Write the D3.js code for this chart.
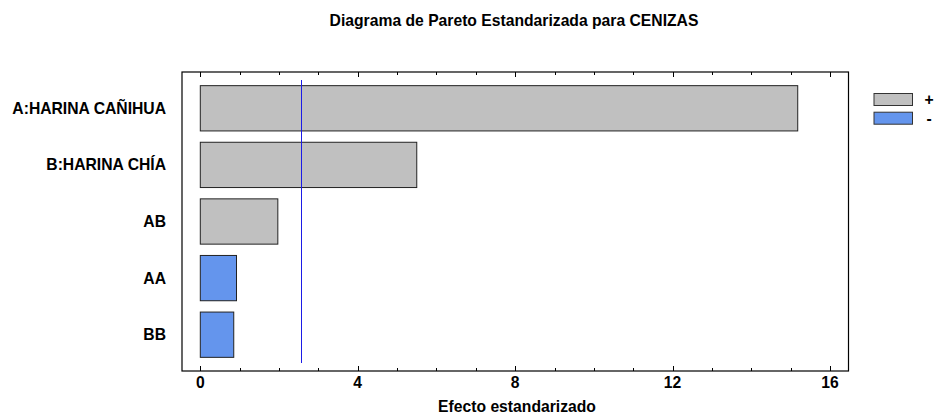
<!DOCTYPE html>
<html>
<head>
<meta charset="utf-8">
<style>
  body { margin: 0; background: #fff; }
  text { font-family: "Liberation Sans", Arial, sans-serif; font-weight: bold; fill: #000; }
</style>
</head>
<body>
<svg id="chart"></svg>
<script src="https://cdnjs.cloudflare.com/ajax/libs/d3/7.8.5/d3.min.js"></script>
<script>
  // effects, sorted as in the pareto chart
  var factors   = ['A:HARINA CAÑIHUA', 'B:HARINA CHÍA', 'AB', 'AA', 'BB'];
  var effects   = [15.18, 5.50, 1.97, 0.92, 0.85];
  var signs     = ['+', '+', '+', '-', '-'];
  var xTicks    = [0, 4, 8, 12, 16];
  var critical  = 2.5706;   // t critical value line

  var width  = 938,
      height = 415,
      fsize  = '15.7px',
      frame  = { left: 182, right: 848.5, top: 72, bottom: 371 };

  var colors = { '+': '#c0c0c0', '-': '#6495ed' };

  var svg = d3.select('#chart')
              .attr('width', width)
              .attr('height', height);

  var x = d3.scaleLinear()
            .domain([0, 16])
            .range([200.3, 830]);

  var y = d3.scaleBand()
            .domain(factors)
            .range([80, 363])
            .paddingInner(0.2)
            .paddingOuter(0.1);

  // title
  svg.append('text')
     .attr('x', 514)
     .attr('y', 26)
     .attr('text-anchor', 'middle')
     .style('font-size', fsize)
     .text('Diagrama de Pareto Estandarizada para CENIZAS');

  // frame
  svg.append('rect')
     .attr('x', frame.left)
     .attr('y', frame.top)
     .attr('width', frame.right - frame.left)
     .attr('height', frame.bottom - frame.top)
     .attr('fill', 'none')
     .attr('stroke', '#000')
     .attr('stroke-width', 1.2);

  // ticks every unit, major ones longer, pointing inward
  var minor = d3.range(0, 17);
  [frame.bottom, frame.top].forEach(function(yy, k) {
    var dir = k === 0 ? -1 : 1;
    svg.append('g').selectAll('line')
       .data(minor)
       .enter().append('line')
       .attr('x1', function(d) { return Math.round(x(d)) + 0.5; })
       .attr('x2', function(d) { return Math.round(x(d)) + 0.5; })
       .attr('y1', yy)
       .attr('y2', function(d) { return yy + dir * (d % 4 === 0 ? 5 : 3); })
       .attr('stroke', '#000')
       .attr('stroke-width', 1);
  });

  // x tick labels
  svg.append('g').selectAll('text')
     .data(xTicks)
     .enter().append('text')
     .attr('x', function(d) { return x(d); })
     .attr('y', 387.5)
     .attr('text-anchor', 'middle')
     .style('font-size', fsize)
     .text(function(d) { return d; });

  svg.append('text')
     .attr('x', 517)
     .attr('y', 412)
     .attr('text-anchor', 'middle')
     .style('font-size', fsize)
     .text('Efecto estandarizado');

  // bars
  svg.append('g').selectAll('rect')
     .data(factors)
     .enter().append('rect')
     .attr('x', x(0))
     .attr('y', function(d) { return y(d); })
     .attr('width', function(d, i) { return x(effects[i]) - x(0); })
     .attr('height', y.bandwidth())
     .attr('fill', function(d, i) { return colors[signs[i]]; })
     .attr('stroke', '#222')
     .attr('stroke-width', 1);

  // factor labels
  svg.append('g').selectAll('text')
     .data(factors)
     .enter().append('text')
     .attr('x', 166)
     .attr('y', function(d) { return y(d) + y.bandwidth() / 2; })
     .attr('dy', '0.35em')
     .attr('text-anchor', 'end')
     .style('font-size', fsize)
     .text(function(d) { return d; });

  // critical line
  svg.append('line')
     .attr('x1', Math.round(x(critical)) + 0.5)
     .attr('x2', Math.round(x(critical)) + 0.5)
     .attr('y1', y.range()[0])
     .attr('y2', y.range()[1])
     .attr('stroke', '#1c1ce6')
     .attr('stroke-width', 1);

  // legend
  var legend = svg.append('g').selectAll('g')
                  .data(['+', '-'])
                  .enter().append('g')
                  .attr('transform', function(d, i) { return 'translate(874,' + (93.5 + i * 18.7) + ')'; });

  legend.append('rect')
        .attr('width', 38.5)
        .attr('height', 12)
        .attr('fill', function(d) { return colors[d]; })
        .attr('stroke', '#333')
        .attr('stroke-width', 1);

  legend.append('text')
        .attr('x', 55)
        .attr('y', 6)
        .attr('dy', '0.35em')
        .attr('text-anchor', 'middle')
        .style('font-size', fsize)
        .text(function(d) { return d; });
</script>
</body>
</html>
